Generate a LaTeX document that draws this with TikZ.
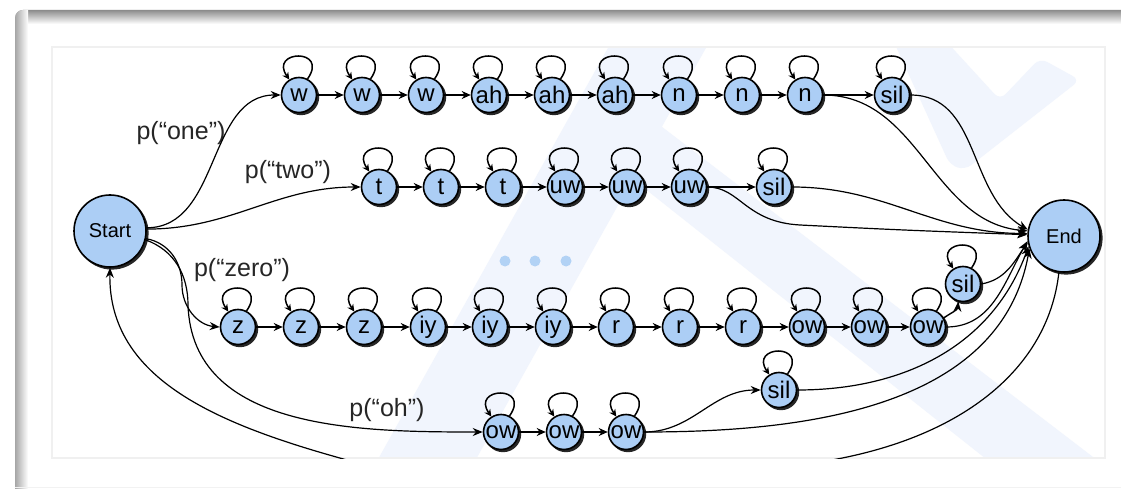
\documentclass[tikz,border=0pt]{standalone}
\usepackage{fontspec}
\setmainfont{Liberation Sans}
\usetikzlibrary{arrows.meta}

\definecolor{statefill}{RGB}{172,206,245}
\definecolor{dotfill}{RGB}{178,210,245}
\definecolor{markfill}{RGB}{241,245,253}

\tikzset{
  state/.style={circle, draw=black, line width=1.6pt, fill=statefill,
    minimum size=35pt, inner sep=0pt, text=black,
    font=\fontsize{24}{24}\selectfont},
  bigstate/.style={state, minimum size=72pt, font=\fontsize{20}{20}\selectfont},
  shade disc/.style={fill=black!85},
  link/.style={line width=2.2pt, -{Stealth[length=9pt,width=8pt]}},
  flow/.style={line width=1.2pt, -{Stealth[length=10pt,width=8pt]}},
  selfloop/.style={line width=1.5pt, -{Stealth[length=7pt,width=7pt]}},
  wordlabel/.style={font=\fontsize{25}{25}\selectfont, inner sep=0pt, text=black!85},
  dot/.style={circle, fill=dotfill, minimum size=11pt, inner sep=0pt},
}

\begin{document}
\begin{tikzpicture}[x=1pt, y=-1pt]
\useasboundingbox (0,0) rectangle (1121,489);

% card with its shaded edges
\fill[white] (0,0) rectangle (1121,489);
\begin{scope}
  \clip[rounded corners=8pt] (15,10) rectangle (1140,520);
  \shade[top color=black!45, bottom color=white] (15,10) rectangle (1121,24);
  \shade[left color=black!35, right color=white] (15,10) rectangle (28,489);
\end{scope}
\draw[black!5, line width=1pt] (15,487.5) -- (1121,487.5);
\fill[white] (52,47) rectangle (1105,458);

% pale emblem behind the diagram
\begin{scope}
  \clip (52,47) rectangle (1105,458);
  \fill[markfill, rounded corners=10pt] (372,470) -- (470,470) -- (716,30) -- (618,30) -- cycle;
  \fill[markfill, rounded corners=10pt] (567,127) -- (640,110) -- (1110,470) -- (1000,470) -- cycle;
  \fill[markfill, rounded corners=8pt] (893,40) -- (945,40) -- (1000,100) -- (1040,58) -- (1080,80) -- (965,170) -- (950,165) -- cycle;
\end{scope}
\draw[black!6, line width=1.2pt] (52,47) rectangle (1105,458);

% drop shadows under the states
\foreach \x/\y in {299/95,362/95,426/95,489/95,552/95,615/95,679/95,742/95,805/95,892/95,
    379/187,441/187,503/187,565/187,627/187,689/187,774/187,
    238/327,301/327,364/327,428/327,490/327,553/327,616/327,680/327,743/327,807/327,869/327,928/327,
    963/284,501/432,564/432,626/432,779/390}
  \fill[shade disc] (\x+2,\y+2) circle (18.2pt);
\fill[shade disc] (112,233) circle (36.6pt);
\fill[shade disc] (1066,238) circle (36.6pt);

% terminal states
\node[bigstate] (start) at (110,231) {Start};
\node[bigstate] (end) at (1064,236) {End};

% "one"
\foreach \n/\x/\t in {a1/299/w, a2/362/w, a3/426/w, a4/489/ah, a5/552/ah,
    a6/615/ah, a7/679/n, a8/742/n, a9/805/n, a10/892/sil}
  \node[state] (\n) at (\x,95) {\t};
% "two"
\foreach \n/\x/\t in {b1/379/t, b2/441/t, b3/503/t, b4/565/uw, b5/627/uw,
    b6/689/uw, b7/774/sil}
  \node[state] (\n) at (\x,187) {\t};
% "zero"
\foreach \n/\x/\t in {c1/238/z, c2/301/z, c3/364/z, c4/428/iy, c5/490/iy,
    c6/553/iy, c7/616/r, c8/680/r, c9/743/r, c10/807/ow, c11/869/ow, c12/928/ow}
  \node[state] (\n) at (\x,327) {\t};
\node[state] (c13) at (963,284) {sil};
% "oh"
\foreach \n/\x/\t in {d1/501/ow, d2/564/ow, d3/626/ow}
  \node[state] (\n) at (\x,432) {\t};
\node[state] (d4) at (779,390) {sil};

% elided words
\node[dot] (e1) at (505,261) {};
\node[dot] (e2) at (535,261) {};
\node[dot] (e3) at (566,261) {};

% word probabilities
\node[wordlabel] (lone) at (181,133) {p(“one”)};
\node[wordlabel] (ltwo) at (288,172) {p(“two”)};
\node[wordlabel] (lzero) at (242,270) {p(“zero”)};
\node[wordlabel] (loh) at (387,410) {p(“oh”)};

% self transitions
\foreach \n in {a1,a2,a3,a4,a5,a6,a7,a8,a9,a10,b1,b2,b3,b4,b5,b6,b7,
    c1,c2,c3,c4,c5,c6,c7,c8,c9,c10,c11,c12,c13,d1,d2,d3,d4}
  \draw[selfloop] (\n.62) .. controls +(55:38pt) and +(125:36pt) .. (\n.122);

% forward transitions inside each word
\foreach \p/\q in {a1/a2,a2/a3,a3/a4,a4/a5,a5/a6,a6/a7,a7/a8,a8/a9,a9/a10,
    b1/b2,b2/b3,b3/b4,b4/b5,b5/b6,b6/b7,
    c1/c2,c2/c3,c3/c4,c4/c5,c5/c6,c6/c7,c7/c8,c8/c9,c9/c10,c10/c11,c11/c12,
    d1/d2,d2/d3}
  \draw[link] (\p) -- (\q);

% entering the words
\draw[flow] (start.5) to[out=0,in=180] (a1.west);
\draw[flow] (start.3) to[out=0,in=180] (b1.west);
\draw[flow] (start.-12) to[out=-10,in=90] (182,285) to[out=-90,in=175] (c1.west);
\draw[flow] (start.-14) to[out=-20,in=90] (188,305) to[out=-88,in=180] (d1.west);

% leaving the words
\draw[flow] (a9.east) to[out=0,in=175] (end.172);
\draw[flow] (a10.east) to[out=0,in=150] (end.170);
\draw[flow] (b6.east) .. controls (740,187) and (745,222) .. (800,225)
  .. controls (900,230) .. (end.178);
\draw[flow] (b7.east) to[out=0,in=180] (end.176);
\draw[flow, line width=1.4pt] (c12.30) to[out=35,in=-95] (c13.-105);
\draw[flow] (c12.east) to[out=0,in=240] (end.188);
\draw[flow] (c13.east) to[out=10,in=235] (end.190);
\draw[flow] (d3.east) to[out=0,in=180] (d4.west);
\draw[flow] (d3.east) .. controls (800,432) and (1000,410) .. (end.200);
\draw[flow] (d4.east) to[out=0,in=250] (end.196);

% back to the start
\begin{scope}
  \clip (52,47) rectangle (1105,458);
  \draw[flow] (end.-98) .. controls (1048,370) and (960,440) .. (820,462)
    .. controls (700,490) and (460,492) .. (347,460)
    .. controls (220,425) and (108,380) .. (start.-90);
\end{scope}
\end{tikzpicture}
\end{document}
